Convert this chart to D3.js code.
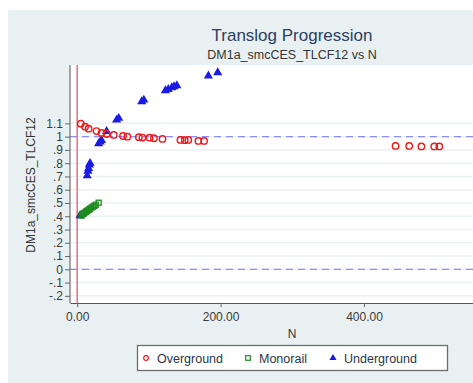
<!DOCTYPE html>
<html>
<head>
<meta charset="utf-8">
<script src="https://cdn.jsdelivr.net/npm/d3@7"></script>
<style>
  body { margin: 0; background: #fff; }
  text { font-family: "Liberation Sans", Arial, sans-serif; }
</style>
</head>
<body>
<svg id="chart" width="473" height="383"></svg>
<script>
// Overground (red hollow circles)
const overN = [5, 11, 16, 27, 34, 41, 51, 64, 70, 86, 91, 101, 107, 119, 144, 150, 155, 169, 177, 444, 463, 480, 498, 505]
const overV = [1.097, 1.075, 1.06, 1.042, 1.028, 1.02, 1.013, 1.005, 1.0, 0.996, 0.993, 0.992, 0.988, 0.983, 0.975, 0.973, 0.975, 0.968, 0.968, 0.93, 0.93, 0.926, 0.926, 0.926]

// Monorail (green hollow squares)
const monoN = [6, 8, 9, 10, 12, 13, 14, 16, 17, 18, 20, 22, 24, 26, 30]
const monoV = [0.405, 0.415, 0.42, 0.425, 0.432, 0.437, 0.442, 0.447, 0.452, 0.457, 0.465, 0.472, 0.478, 0.487, 0.502]

// Underground (blue filled triangles)
const underN = [4, 14, 15, 16, 17, 18, 30, 32, 34, 41, 55, 58, 90, 93, 123, 127, 132, 135, 139, 183, 196]
const underV = [0.405, 0.706, 0.74, 0.76, 0.787, 0.8, 0.948, 0.96, 0.972, 1.04, 1.126, 1.139, 1.264, 1.277, 1.347, 1.357, 1.37, 1.377, 1.385, 1.458, 1.483]

const yTicks = [-0.2, -0.1, 0, 0.1, 0.2, 0.3, 0.4, 0.5, 0.6, 0.7, 0.8, 0.9, 1, 1.1]
const yTickLabels = ["-.2", "-.1", "0", ".1", ".2", ".3", ".4", ".5", ".6", ".7", ".8", ".9", "1", "1.1"]
const xTicks = [0, 200, 400]
const xTickLabels = ["0.00", "200.00", "400.00"]

const legendItems = [
    { name: "Overground", shape: "circle", color: "#f01818" },
    { name: "Monorail", shape: "square", color: "#1e8c1e" },
    { name: "Underground", shape: "triangle", color: "#1a1ae6" }
]

const svg = d3.select("#chart")
const plot = { left: 70, right: 473, top: 65, bottom: 303 }

// backgrounds
svg.append("rect").attr("x", 8).attr("y", 10).attr("width", 465).attr("height", 373).attr("fill", "#e9f0f2")
svg.append("rect").attr("x", plot.left).attr("y", plot.top)
    .attr("width", plot.right - plot.left).attr("height", plot.bottom - plot.top).attr("fill", "#fff")

const x = d3.scaleLinear().domain([-10, 552]).range([plot.left, plot.right])
const y = d3.scaleLinear().domain([-0.254, 1.54]).range([plot.bottom, plot.top])

// gridlines
svg.append("g").selectAll("line").data(yTicks).join("line")
    .attr("x1", plot.left).attr("x2", plot.right)
    .attr("y1", d => y(d)).attr("y2", d => y(d))
    .attr("stroke", "#ebf1f3").attr("stroke-width", 1.5)

// reference lines
svg.append("g").selectAll("line").data([0, 1]).join("line")
    .attr("x1", plot.left).attr("x2", plot.right)
    .attr("y1", d => y(d)).attr("y2", d => y(d))
    .attr("stroke", "#8d8df2").attr("stroke-width", 1.2).attr("stroke-dasharray", "7,5")

svg.append("line")
    .attr("x1", x(0)).attr("x2", x(0)).attr("y1", plot.top).attr("y2", plot.bottom)
    .attr("stroke", "#e5717f").attr("stroke-width", 1.5)

// axes
const yAxis = svg.append("g").attr("transform", `translate(${plot.left},0)`)
    .call(d3.axisLeft(y).tickValues(yTicks).tickFormat((d, i) => yTickLabels[i]).tickSize(5).tickSizeOuter(0))
yAxis.select(".domain").attr("stroke", "#555").attr("d", `M0,${plot.top}V${plot.bottom}`)
yAxis.selectAll(".tick line").attr("stroke", "#666")
yAxis.selectAll(".tick text").attr("font-size", 12).attr("fill", "#3a3a3a").attr("x", -7).attr("font-family", "Liberation Sans, Arial, sans-serif")

const xAxis = svg.append("g").attr("transform", `translate(0,${plot.bottom})`)
    .call(d3.axisBottom(x).tickValues(xTicks).tickFormat((d, i) => xTickLabels[i]).tickSize(4).tickSizeOuter(0))
xAxis.select(".domain").attr("stroke", "#555")
xAxis.selectAll(".tick line").attr("stroke", "#666")
xAxis.selectAll(".tick text").attr("font-size", 12).attr("fill", "#3a3a3a").attr("y", 9).attr("font-family", "Liberation Sans, Arial, sans-serif")

// titles
svg.append("text").attr("x", 292).attr("y", 41).attr("text-anchor", "middle")
    .attr("font-size", 17).attr("fill", "#2b4060").text("Translog Progression")
svg.append("text").attr("x", 292).attr("y", 59).attr("text-anchor", "middle")
    .attr("font-size", 12.5).attr("fill", "#333").text("DM1a_smcCES_TLCF12 vs N")
svg.append("text").attr("x", 292).attr("y", 338).attr("text-anchor", "middle")
    .attr("font-size", 12).attr("fill", "#333").text("N")
svg.append("text").attr("transform", "translate(35,185) rotate(-90)").attr("text-anchor", "middle")
    .attr("font-size", 12).attr("fill", "#333").text("DM1a_smcCES_TLCF12")

// markers
const tri = d3.symbol().type(d3.symbolTriangle).size(36)

svg.append("g").selectAll("path").data(d3.zip(underN, underV)).join("path")
    .attr("d", tri).attr("transform", d => `translate(${x(d[0])},${y(d[1])})`)
    .attr("fill", "#1a1ae6")

svg.append("g").selectAll("rect").data(d3.zip(monoN, monoV)).join("rect")
    .attr("x", d => x(d[0]) - 2.5).attr("y", d => y(d[1]) - 2.5).attr("width", 5).attr("height", 5)
    .attr("fill", "none").attr("stroke", "#1e8c1e").attr("stroke-width", 1.3)

svg.append("g").selectAll("circle").data(d3.zip(overN, overV)).join("circle")
    .attr("cx", d => x(d[0])).attr("cy", d => y(d[1])).attr("r", 3.2)
    .attr("fill", "none").attr("stroke", "#f01818").attr("stroke-width", 1.4)

// legend
const legend = svg.append("g")
legend.append("rect").attr("x", 137.5).attr("y", 345.5).attr("width", 310).attr("height", 25)
    .attr("fill", "#fff").attr("stroke", "#6e6e6e").attr("stroke-width", 1.3)
const legendX = [146, 248, 333]
legendItems.forEach((item, i) => {
    const g = legend.append("g").attr("transform", `translate(${legendX[i]},358)`)
    if (item.shape === "circle")
        g.append("circle").attr("r", 2.3).attr("fill", "none").attr("stroke", item.color).attr("stroke-width", 1.2)
    else if (item.shape === "square")
        g.append("rect").attr("x", -2.3).attr("y", -2.3).attr("width", 4.6).attr("height", 4.6)
            .attr("fill", "none").attr("stroke", item.color).attr("stroke-width", 1.2)
    else
        g.append("path").attr("d", d3.symbol().type(d3.symbolTriangle).size(22)).attr("fill", item.color)
    g.append("text").attr("x", 11).attr("y", 4.5).attr("font-size", 12.5).attr("fill", "#2e3646").text(item.name)
})
</script>
</body>
</html>
